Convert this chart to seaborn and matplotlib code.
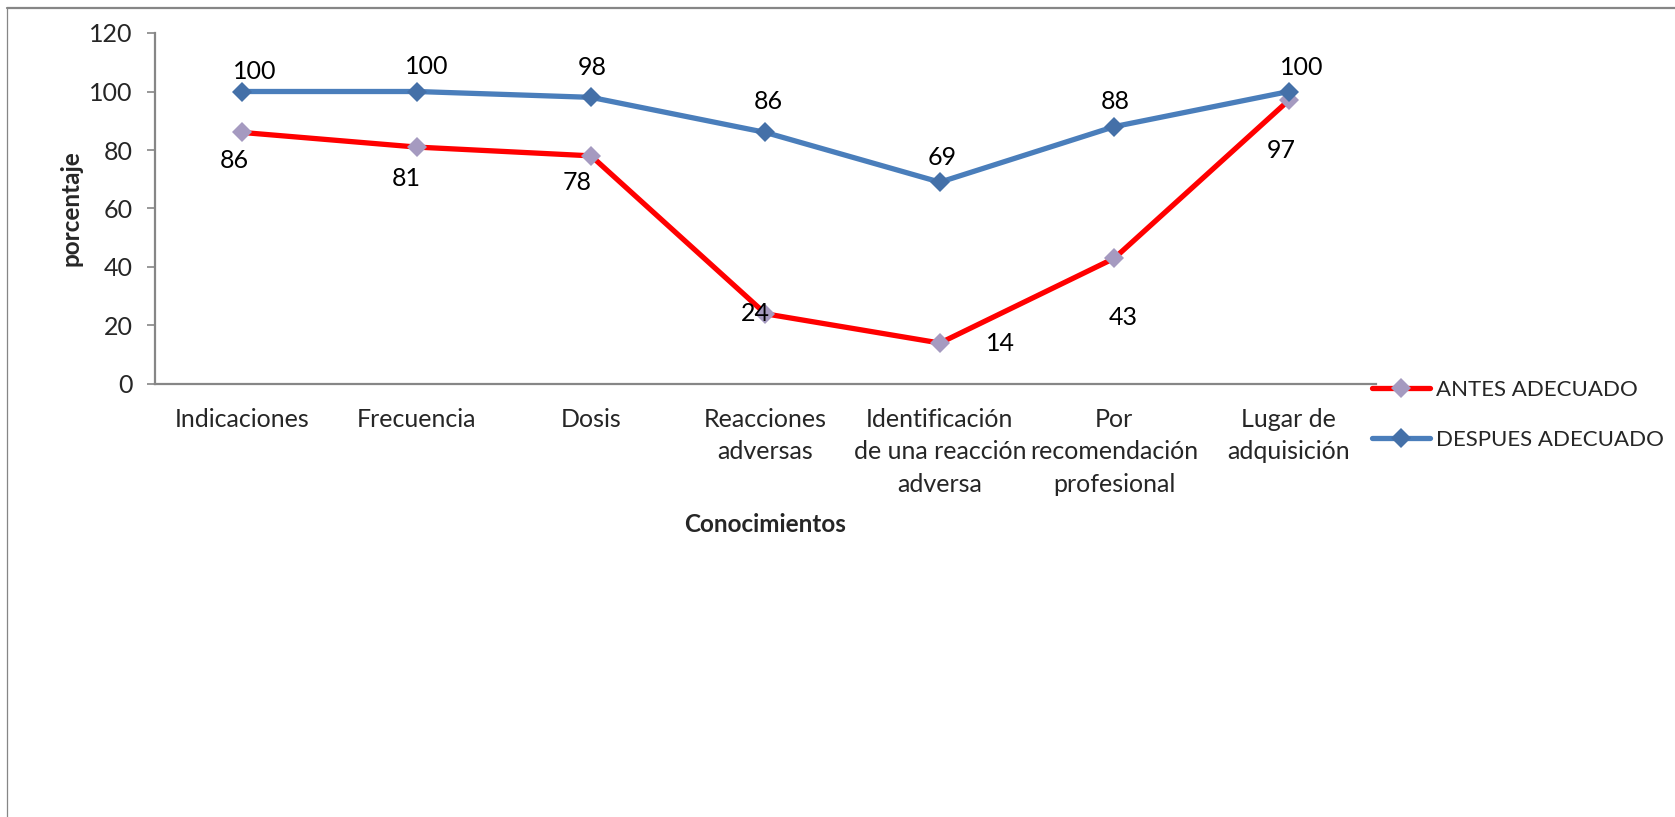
import matplotlib
matplotlib.use("Agg")
import matplotlib.pyplot as plt
import seaborn as sns
import pandas as pd
from matplotlib.lines import Line2D

categories = ["Indicaciones", "Frecuencia", "Dosis", "Reacciones\nadversas",
              "Identificación\nde una reacción\nadversa",
              "Por\nrecomendación\nprofesional", "Lugar de\nadquisición"]
antes = [86, 81, 78, 24, 14, 43, 97]
despues = [100, 100, 98, 86, 69, 88, 100]
series_names = ["ANTES ADECUADO", "DESPUES ADECUADO"]
yticks = [0, 20, 40, 60, 80, 100, 120]

sns.set_style("white")
plt.rcParams["font.family"] = ["Lato", "DejaVu Sans"]

W, H = 1675, 817
fig = plt.figure(figsize=(W / 100, H / 100), dpi=100)
ax = fig.add_axes([155 / W, 1 - 384 / H, (1376 - 155) / W, (384 - 33) / H])

x_pos = list(range(len(categories)))
df = pd.DataFrame({"x": x_pos, "antes": antes, "despues": despues})

red = "#FF0000"
lav = "#A59AC0"
blue_line = "#4A7EBB"
blue_mark = "#4470A8"
lw = 3.8
ms = 10.5

sns.lineplot(data=df, x="x", y="antes", ax=ax, color=red, lw=lw, marker="D",
             markersize=ms, markerfacecolor=lav, markeredgecolor=lav,
             markeredgewidth=0, zorder=3)
sns.lineplot(data=df, x="x", y="despues", ax=ax, color=blue_line, lw=lw,
             marker="D", markersize=ms, markerfacecolor=blue_mark,
             markeredgecolor=blue_mark, markeredgewidth=0, zorder=4)

fs = 18
# label offsets in pixels (dx, dy) relative to the marker
antes_off = [(-8, -28), (-10, -31), (-14, -27), (-10, 0), (61, 0), (9, -59), (-8, -50)]
despues_off = [(12, 20), (10, 25), (1, 30), (3, 31), (2, 25), (1, 25), (13, 24)]
for xi, v, off in zip(x_pos, antes, antes_off):
    ax.annotate(str(v), (xi, v), xytext=off, textcoords="offset pixels",
                ha="center", va="center", fontsize=fs, color="black", zorder=6)
for xi, v, off in zip(x_pos, despues, despues_off):
    ax.annotate(str(v), (xi, v), xytext=off, textcoords="offset pixels",
                ha="center", va="center", fontsize=fs, color="black", zorder=6)

ax.set_xlim(-0.5, len(categories) - 0.5)
ax.set_ylim(0, 120)
ax.set_yticks(yticks)
ax.set_yticklabels([str(t) for t in yticks], fontsize=fs)
ax.set_xticks(x_pos)
ax.set_xticklabels(categories, fontsize=fs, linespacing=1.52)
ax.tick_params(axis="y", length=6, width=1.2, color="#868686", pad=10, left=True)
ax.tick_params(axis="x", length=0, pad=17)

for s in ["top", "right"]:
    ax.spines[s].set_visible(False)
for s in ["left", "bottom"]:
    ax.spines[s].set_color("#868686")
    ax.spines[s].set_linewidth(1.6)

ax.set_xlabel("Conocimientos", fontsize=17.5, fontweight="bold", labelpad=12)
ax.set_ylabel("porcentaje", fontsize=17.5, fontweight="bold", labelpad=5)

handles = [
    Line2D([], [], color=red, lw=lw, marker="D", markersize=ms,
           markerfacecolor=lav, markeredgewidth=0),
    Line2D([], [], color=blue_line, lw=lw, marker="D", markersize=ms,
           markerfacecolor=blue_mark, markeredgewidth=0),
]
leg = ax.legend(handles, series_names, loc="center left",
                bbox_to_anchor=(1372 / W, 1 - 415 / H), bbox_transform=fig.transFigure,
                frameon=False, fontsize=16, handlelength=2.6, handletextpad=0.3,
                labelspacing=1.35, borderaxespad=0, borderpad=0)

# chart frame (top and left edges visible)
fig.add_artist(Line2D([7 / W, 1.0], [1 - 8 / H, 1 - 8 / H], transform=fig.transFigure,
                      color="#868686", lw=1.6))
fig.add_artist(Line2D([7 / W, 7 / W], [0.0, 1 - 8 / H], transform=fig.transFigure,
                      color="#868686", lw=0.9))

fig.savefig("out.png", dpi=100)
